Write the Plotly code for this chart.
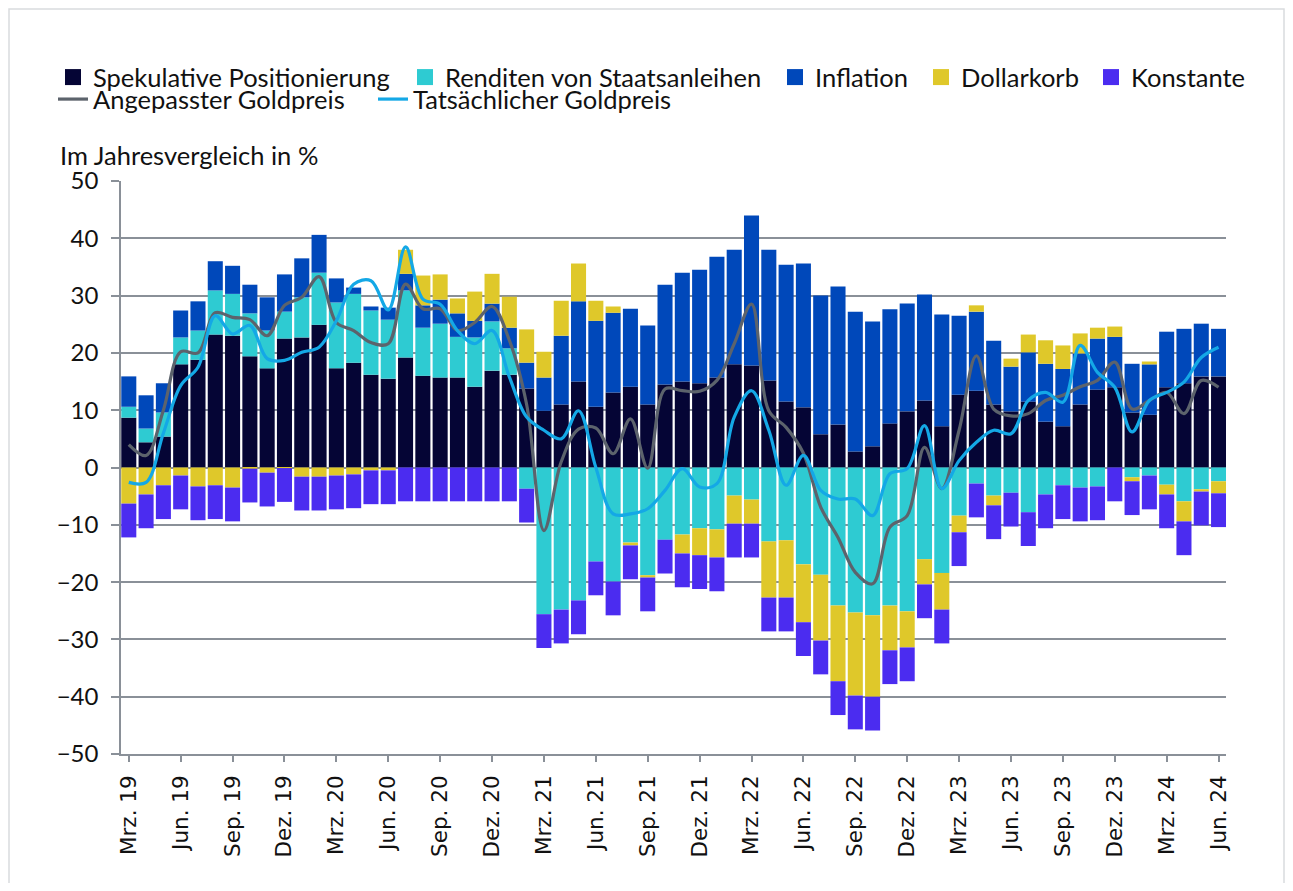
import plotly.graph_objects as go

months = [
    "Mrz. 19", "Apr. 19", "Mai. 19", "Jun. 19", "Jul. 19", "Aug. 19", "Sep. 19", "Okt. 19", "Nov. 19", "Dez. 19",
    "Jan. 20", "Feb. 20", "Mrz. 20", "Apr. 20", "Mai. 20", "Jun. 20", "Jul. 20", "Aug. 20", "Sep. 20", "Okt. 20",
    "Nov. 20", "Dez. 20", "Jan. 21", "Feb. 21", "Mrz. 21", "Apr. 21", "Mai. 21", "Jun. 21", "Jul. 21", "Aug. 21",
    "Sep. 21", "Okt. 21", "Nov. 21", "Dez. 21", "Jan. 22", "Feb. 22", "Mrz. 22", "Apr. 22", "Mai. 22", "Jun. 22",
    "Jul. 22", "Aug. 22", "Sep. 22", "Okt. 22", "Nov. 22", "Dez. 22", "Jan. 23", "Feb. 23", "Mrz. 23", "Apr. 23",
    "Mai. 23", "Jun. 23", "Jul. 23", "Aug. 23", "Sep. 23", "Okt. 23", "Nov. 23", "Dez. 23", "Jan. 24", "Feb. 24",
    "Mrz. 24", "Apr. 24", "Mai. 24", "Jun. 24",
]

spekulative = [
    8.7, 4.4, 5.4, 18.0, 18.8, 23.2, 23.0, 19.4, 17.3, 22.5,
    22.7, 24.9, 17.3, 18.3, 16.2, 15.5, 19.2, 16.0, 15.7, 15.7,
    14.1, 16.9, 16.2, 13.8, 9.9, 11.0, 15.0, 10.6, 13.1, 14.1,
    11.0, 14.5, 15.0, 14.7, 15.7, 18.0, 17.8, 15.2, 11.5, 10.5,
    5.8, 7.5, 2.8, 3.7, 7.7, 9.8, 11.7, 7.2, 12.7, 13.4,
    11.0, 9.8, 11.5, 8.0, 7.2, 11.0, 13.6, 14.0, 9.6, 9.2,
    14.0, 14.7, 15.9, 15.9,
]

renditen = [
    1.9, 2.4, 4.2, 4.7, 5.1, 7.7, 7.3, 7.5, 6.6, 4.7,
    7.0, 9.1, 11.5, 12.0, 11.2, 10.3, 11.7, 8.4, 9.4, 7.1,
    8.6, 8.6, 4.6, -3.7, -25.6, -24.8, -23.2, -16.4, -19.9, -13.1,
    -18.8, -12.6, -11.7, -10.6, -10.8, -4.9, -5.6, -12.9, -12.7, -16.9,
    -18.7, -24.1, -25.3, -25.8, -24.1, -25.1, -16.0, -18.4, -8.4, -2.8,
    -4.9, -4.4, -7.8, -4.7, -3.1, -3.5, -3.3, 0.0, -1.7, -1.4,
    -3.0, -5.9, -3.8, -2.4,
]

inflation = [
    5.3, 5.8, 5.1, 4.7, 5.1, 5.1, 4.9, 5.0, 5.8, 6.5,
    6.8, 6.6, 4.2, 1.1, 0.7, 2.1, 2.9, 3.9, 4.2, 4.1,
    2.9, 3.1, 3.6, 4.5, 5.8, 12.0, 14.0, 15.0, 13.9, 13.6,
    13.8, 17.4, 19.0, 19.8, 21.1, 20.0, 26.2, 22.8, 23.9, 25.1,
    24.2, 24.1, 24.4, 21.8, 19.9, 18.8, 18.5, 19.5, 13.8, 13.8,
    11.1, 7.8, 8.6, 10.1, 10.0, 8.9, 8.9, 8.8, 8.5, 8.8,
    9.7, 9.5, 9.2, 8.3,
]

dollarkorb = [
    -6.3, -4.7, -3.1, -1.4, -3.3, -3.1, -3.5, -0.2, -0.9, -0.1,
    -1.6, -1.6, -1.4, -1.2, -0.5, -0.5, 4.2, 5.2, 4.4, 2.6,
    5.1, 5.2, 5.4, 5.8, 4.5, 6.1, 6.6, 3.5, 1.1, -0.5,
    -0.4, 0.0, -3.3, -4.7, -4.9, -4.9, -4.2, -9.8, -10.0, -10.1,
    -11.5, -13.2, -14.5, -14.2, -7.8, -6.3, -4.4, -6.4, -2.9, 1.1,
    -1.7, 1.4, 3.1, 4.1, 4.1, 3.5, 1.9, 1.8, -0.7, 0.5,
    -1.7, -3.5, -0.4, -2.1,
]

konstante = [-5.9] * len(months)

angepasst = [
    4.0, 2.1, 10.0, 20.2, 20.0, 27.0, 26.2, 25.8, 23.0, 28.3,
    29.7, 33.3, 25.3, 23.9, 21.8, 21.6, 32.0, 27.7, 27.7, 23.9,
    25.3, 28.1, 22.2, 11.0, -11.0, 1.0, 6.7, 6.9, 2.4, 8.5,
    -0.1, 13.7, 13.4, 13.3, 15.2, 21.6, 28.5, 9.9, 7.0, 2.5,
    -6.9, -12.2, -18.3, -20.3, -10.4, -8.4, 3.5, -3.7, 6.5, 19.5,
    10.2, 9.0, 9.4, 11.7, 12.6, 14.1, 15.2, 18.4, 10.2, 11.7,
    13.1, 9.4, 15.2, 14.0,
]

tatsaechlich = [
    -2.6, -2.6, 6.0, 14.3, 17.5, 26.5, 23.3, 24.8, 19.0, 18.7,
    20.1, 21.0, 25.6, 32.0, 32.6, 27.5, 38.5, 29.4, 28.5, 23.9,
    21.6, 23.9, 15.8, 8.8, 6.5, 5.0, 9.9, 0.0, -8.1, -8.1,
    -7.2, -4.0, -0.2, -3.4, -2.8, 8.8, 13.4, 6.5, -3.1, 2.1,
    -4.0, -5.5, -5.5, -8.4, -1.1, -0.2, 7.3, -3.7, 1.2, 4.4,
    6.5, 5.9, 11.7, 13.1, 11.4, 21.3, 16.6, 14.0, 6.2, 11.7,
    13.1, 14.9, 19.2, 21.0,
]

tick_labels = [m for m in months if m.split(".")[0] in ("Mrz", "Jun", "Sep", "Dez")]

FONT = "Lato"
OFF = 8  # page offset of the figure inside the browser window
W, H = 1293 - 2 * OFF, 891 - 2 * OFF
L, T = 121 - OFF, 181 - OFF
PW, PH = 1105, 573
R, B = W - L - PW, H - T - PH


def px_x(px):
    # px given in window coordinates
    return (px - OFF - L) / PW


def px_y(py):
    return (T + PH - (py - OFF)) / PH


LFS = 25.5
TXT = "#111111"
grid = "#8a9098"

# legend layout: (text start x in window px, row center y)
bar_series = [
    ("Spekulative Positionierung", spekulative, "#050535", 93),
    ("Renditen von Staatsanleihen", renditen, "#2ecbd2", 445),
    ("Inflation", inflation, "#0048ba", 815),
    ("Dollarkorb", dollarkorb, "#dfc82a", 961),
    ("Konstante", konstante, "#4b2cf0", 1131),
]
line_series = [
    ("Angepasster Goldpreis", angepasst, "#5c636c", 93),
    ("Tatsächlicher Goldpreis", tatsaechlich, "#14a8e6", 413),
]

fig = go.Figure()
legends = {}
k = 1
for name, vals, col, tx in bar_series:
    lg = "legend" if k == 1 else f"legend{k}"
    fig.add_trace(go.Bar(x=months, y=vals, name=name, showlegend=False,
                         marker=dict(color=col, line=dict(width=0))))
    # legend entry with a larger square swatch
    fig.add_trace(go.Scatter(x=[None], y=[None], mode="markers", name=name, legend=lg,
                             marker=dict(symbol="square", size=16, color=col)))
    legends[lg] = dict(orientation="h", x=px_x(tx - 40), y=px_y(54), xanchor="left", yanchor="top",
                       font=dict(family=FONT, size=LFS, color=TXT), bgcolor="rgba(0,0,0,0)",
                       itemclick=False)
    k += 1

for name, vals, col, tx in line_series:
    lg = f"legend{k}"
    fig.add_trace(go.Scatter(x=months, y=vals, name=name, mode="lines", legend=lg,
                             line=dict(color=col, width=3.2, shape="spline", smoothing=1.0)))
    legends[lg] = dict(orientation="h", x=px_x(tx - 40), y=px_y(76), xanchor="left", yanchor="top",
                       font=dict(family=FONT, size=LFS, color=TXT), bgcolor="rgba(0,0,0,0)",
                       itemclick=False)
    k += 1

fig.update_layout(
    width=W, height=H,
    margin=dict(l=L, r=R, t=T, b=B, autoexpand=False),
    barmode="relative", bargap=0.13,
    plot_bgcolor="white", paper_bgcolor="white",
    font=dict(family=FONT, size=LFS, color=TXT),
    xaxis=dict(type="category", categoryorder="array", categoryarray=months,
               range=[-0.45, len(months) - 1 + 0.43],
               tickmode="array", tickvals=tick_labels, ticktext=tick_labels,
               tickangle=-90, ticks="outside", ticklen=6, tickwidth=1.5, tickcolor=grid,
               showline=True, linecolor=grid, linewidth=1.5, showgrid=False, zeroline=False,
               tickfont=dict(family="DejaVu Sans", size=21.5, color=TXT), ticklabelstandoff=5),
    yaxis=dict(range=[-50, 50], dtick=10, tick0=0, showgrid=True, gridcolor=grid, gridwidth=1.5,
               zeroline=True, zerolinecolor=grid, zerolinewidth=1.5,
               showline=True, linecolor=grid, linewidth=1.5,
               ticks="outside", ticklen=8, tickwidth=1.5, tickcolor=grid,
               tickfont=dict(family=FONT, size=24, color=TXT), ticklabelstandoff=8),
    annotations=[dict(text="Im Jahresvergleich in %", xref="paper", yref="paper",
                      x=px_x(58), y=px_y(155), xanchor="left", yanchor="middle", showarrow=False,
                      font=dict(family=FONT, size=LFS, color=TXT))],
    shapes=[dict(type="rect", xref="paper", yref="paper", x0=px_x(9), x1=px_x(OFF + W - 1),
                 y0=px_y(OFF + H + 20), y1=px_y(9), line=dict(color="#d9dbde", width=1.5),
                 fillcolor="rgba(0,0,0,0)", layer="below")],
    **legends,
)

fig.write_html("out.html")
